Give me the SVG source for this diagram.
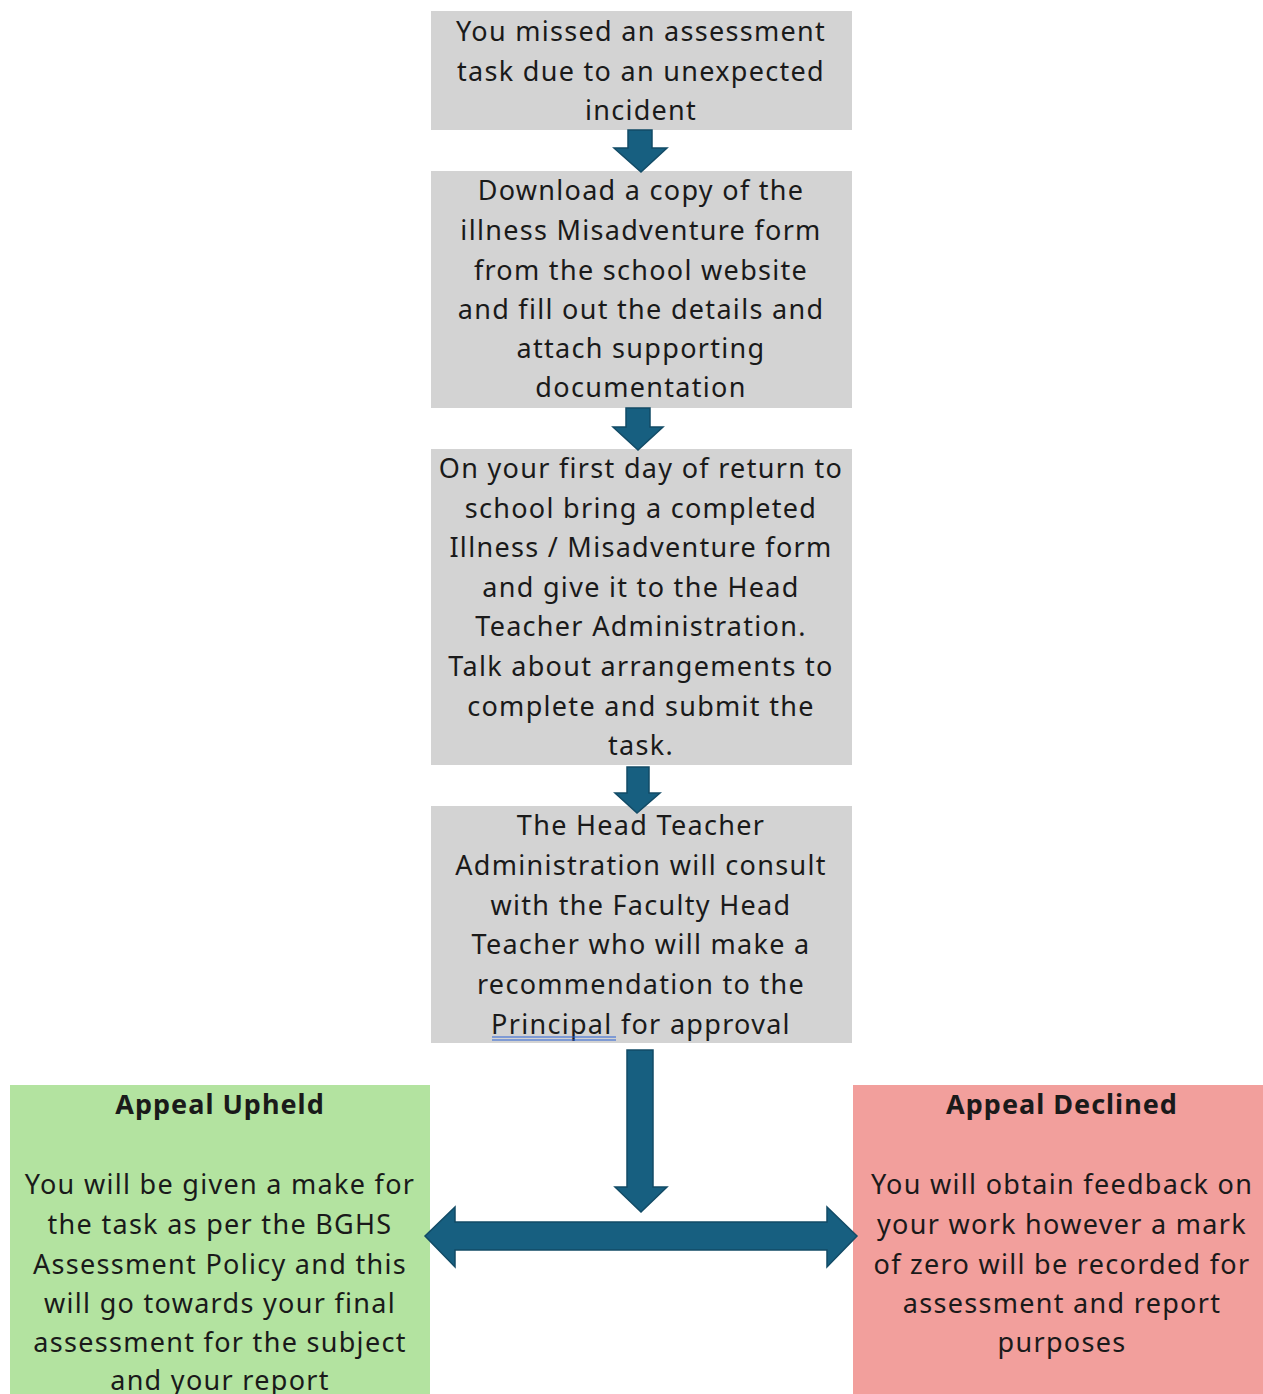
<svg xmlns="http://www.w3.org/2000/svg" width="1263" height="1394" viewBox="0 0 1263 1394">
<style>
.box{fill:#d3d3d3}
.t{font-family:"Noto Sans","Open Sans",sans-serif;font-size:27px;letter-spacing:1.3px;fill:#1a1a1a;text-anchor:middle}
.b{font-weight:bold;letter-spacing:1px}
.arr{fill:#175f80;stroke:#124b66;stroke-width:1.5}
</style>
<rect width="1263" height="1394" fill="#ffffff"/>
<g id="n1">
<rect class="box" x="431" y="11" width="421" height="119"/>
<text class="t" x="641" y="41">You missed an assessment</text>
<text class="t" x="641" y="81">task due to an unexpected</text>
<text class="t" x="641" y="120">incident</text>
</g>
<g id="n2">
<rect class="box" x="431" y="171" width="421" height="237"/>
<text class="t" x="641" y="200">Download a copy of the</text>
<text class="t" x="641" y="240">illness Misadventure form</text>
<text class="t" x="641" y="280">from the school website</text>
<text class="t" x="641" y="319">and fill out the details and</text>
<text class="t" x="641" y="358">attach supporting</text>
<text class="t" x="641" y="397">documentation</text>
</g>
<g id="n3">
<rect class="box" x="431" y="449" width="421" height="316"/>
<text class="t" x="641" y="478">On your first day of return to</text>
<text class="t" x="641" y="518">school bring a completed</text>
<text class="t" x="641" y="557">Illness / Misadventure form</text>
<text class="t" x="641" y="597">and give it to the Head</text>
<text class="t" x="641" y="636">Teacher Administration.</text>
<text class="t" x="641" y="676">Talk about arrangements to</text>
<text class="t" x="641" y="716">complete and submit the</text>
<text class="t" x="641" y="755">task.</text>
</g>
<g id="n4">
<rect class="box" x="431" y="806" width="421" height="237"/>
<text class="t" x="641" y="835">The Head Teacher</text>
<text class="t" x="641" y="875">Administration will consult</text>
<text class="t" x="641" y="915">with the Faculty Head</text>
<text class="t" x="641" y="954">Teacher who will make a</text>
<text class="t" x="641" y="994">recommendation to the</text>
<text class="t" x="641" y="1034">Principal for approval</text>
<line x1="492" y1="1037" x2="616" y2="1037" stroke="#2b62d6" stroke-width="1.2"/>
<line x1="492" y1="1040" x2="616" y2="1040" stroke="#2b62d6" stroke-width="1.2"/>
</g>
<g id="upheld">
<rect x="10" y="1085" width="420" height="309" fill="#b3e3a0"/>
<text class="t b" x="220" y="1114">Appeal Upheld</text>
<text class="t" x="220" y="1194">You will be given a make for</text>
<text class="t" x="220" y="1234">the task as per the BGHS</text>
<text class="t" x="220" y="1274">Assessment Policy and this</text>
<text class="t" x="220" y="1313">will go towards your final</text>
<text class="t" x="220" y="1352">assessment for the subject</text>
<text class="t" x="220" y="1390">and your report</text>
</g>
<g id="declined">
<rect x="853" y="1085" width="410" height="309" fill="#f29f9c"/>
<text class="t b" x="1062" y="1114">Appeal Declined</text>
<text class="t" x="1062" y="1194">You will obtain feedback on</text>
<text class="t" x="1062" y="1234">your work however a mark</text>
<text class="t" x="1062" y="1274">of zero will be recorded for</text>
<text class="t" x="1062" y="1313">assessment and report</text>
<text class="t" x="1062" y="1352">purposes</text>
</g>
<g id="connectors">
<path class="arr" d="M628,130 H652 V148 H667 L641,172 L614,148 H628 Z"/>
<path class="arr" d="M626,408 H650 V427 H663 L638,450 L613,427 H626 Z"/>
<path class="arr" d="M627,767 H649 V793 H660 L637,813 L615,793 H627 Z"/>
<path class="arr" d="M627,1050 H653 V1187 H667 L641,1212 L615,1187 H627 Z"/>
<path class="arr" d="M425,1236 L455,1207 V1222 H827 V1207 L857,1236 L827,1267 V1250 H455 V1267 Z"/>
</g>
</svg>
